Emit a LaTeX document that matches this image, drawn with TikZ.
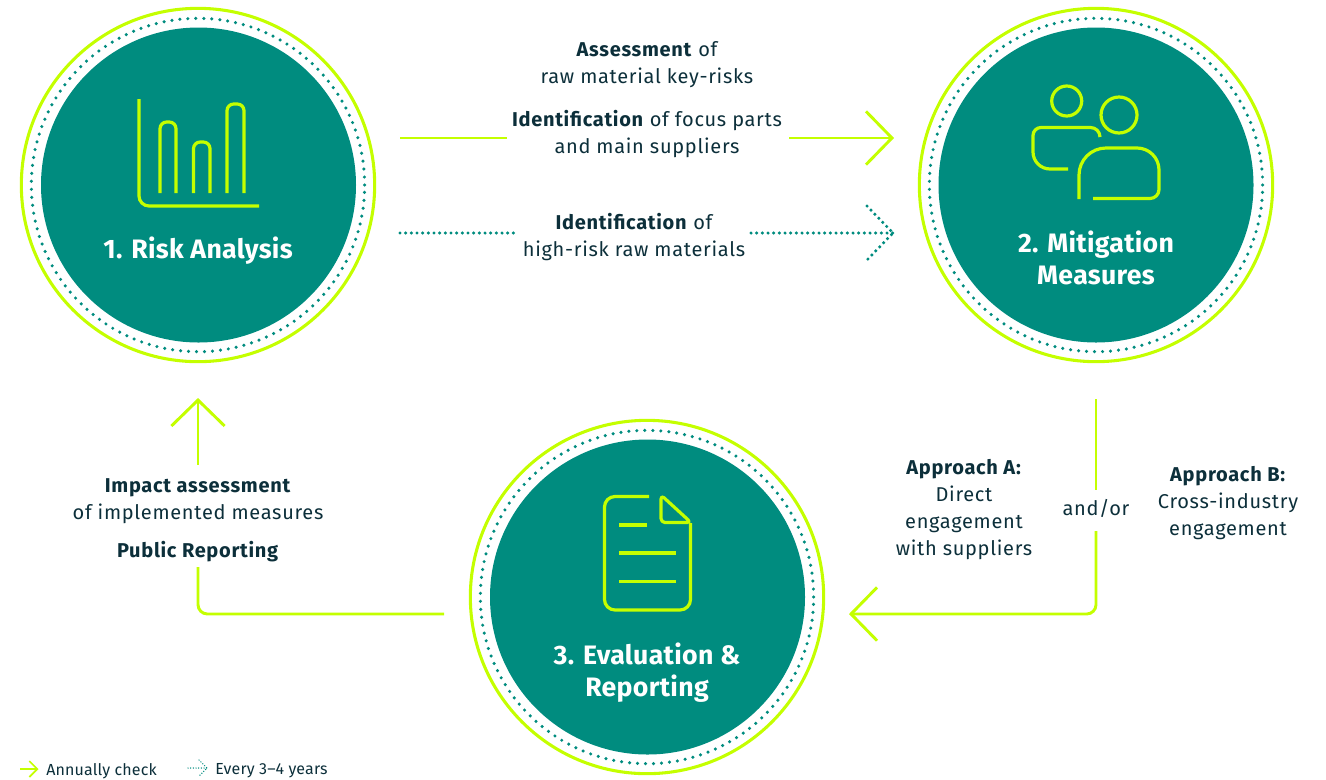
\documentclass[tikz,border=0pt]{standalone}
\usepackage{fontspec}
\setmainfont{Fira Sans}[LetterSpace=3.5]
\newfontfamily\titlefont{Fira Sans}[LetterSpace=1.2]
\newfontfamily\legendfont{Fira Sans}[LetterSpace=1]
\usetikzlibrary{arrows.meta,calc}
\definecolor{tealc}{HTML}{008C7F}
\definecolor{limec}{HTML}{C4FF00}
\definecolor{inkc}{HTML}{0C2F3A}
\tikzset{
  disc/.style={circle,fill=tealc,draw=none,minimum size=236.25pt,inner sep=0pt},
  limering/.style={circle,draw=limec,line width=2.3pt,minimum size=265pt,inner sep=0pt},
  dotring/.style={circle,draw=tealc,line width=2.6pt,line cap=round,dash pattern=on 0pt off 6pt,minimum size=250pt,inner sep=0pt},
  limeline/.style={draw=limec,line width=2.2pt},
  limearrow/.style={limeline,-{Straight Barb[length=19.5pt,width=40pt]}},
  smallarrow/.style={limeline,line width=1.3pt,-{Straight Barb[length=6pt,width=12pt]}},
  dotline/.style={draw=tealc,line width=2.6pt,line cap=round,dash pattern=on 0pt off 4.25pt},
  smalldot/.style={draw=tealc,line width=1.1pt,line cap=round,dash pattern=on 0pt off 2pt},
  icon/.style={draw=limec,line width=2.4pt,line join=round},
  title/.style={text=white,font=\titlefont\fontsize{20pt}{24pt}\selectfont\bfseries,align=center,inner sep=0pt},
  label/.style={text=inkc,font=\fontsize{15pt}{20.25pt}\selectfont,align=center,inner sep=0pt},
  legend/.style={text=inkc,font=\legendfont\fontsize{12pt}{14pt}\selectfont,anchor=west,inner sep=0pt},
}
\begin{document}
\begin{tikzpicture}[x=0.75pt,y=-0.75pt]
\useasboundingbox (0,0) rectangle (1326,779);
% circles
\node[limering] (r1) at (198,185) {};
\node[dotring]  (d1) at (198,185) {};
\node[disc]     (c1) at (198.5,185) {};
\node[limering] (r2) at (1096,185) {};
\node[dotring]  (d2) at (1096,185) {};
\node[disc]     (c2) at (1096,185) {};
\node[limering] (r3) at (647,597) {};
\node[dotring]  (d3) at (647,597) {};
\node[disc]     (c3) at (647.5,597) {};
% titles
\node[title] (t1) at (198,251) {1. Risk Analysis};
\node[title] (t2) at (1096,258) {2. Mitigation\\Measures};
\node[title] (t3) at (647,672.5) {3. Evaluation \&\\Reporting};
% icon 1
\draw[icon] (139,99) -- (139,196) arc[start angle=180,end angle=90,radius=10] -- (259,206);
\draw[icon,rounded corners=5pt] (160,193) -- (160,122) -- (176,122) -- (176,193);
\draw[icon,rounded corners=5pt] (193.5,193) -- (193.5,142) -- (210,142) -- (210,193);
\draw[icon,rounded corners=5pt] (227,193) -- (227,104) -- (244,104) -- (244,193);
% icon 2
\node[circle,icon,minimum size=22.5pt,inner sep=0pt] (h1) at (1066.7,101) {};
\node[circle,icon,minimum size=27pt,inner sep=0pt] (h2) at (1119,115) {};
\draw[icon] (1100,137) arc[start angle=0,end angle=-90,radius=9.5] -- (1041,127.5) arc[start angle=-90,end angle=-180,radius=8] -- (1033,152) arc[start angle=180,end angle=90,radius=17] -- (1068,169);
\draw[icon] (1079,199) -- (1079,175) arc[start angle=180,end angle=270,radius=27] -- (1137,148) arc[start angle=-90,end angle=0,radius=22] -- (1159,189.5) arc[start angle=0,end angle=90,radius=9] -- (1093,198.5);
% icon 3
\draw[icon] (649,496.5) -- (615,496.5) arc[start angle=-90,end angle=-180,radius=10.5] -- (604.5,599.5) arc[start angle=180,end angle=90,radius=10.5] -- (680,610) arc[start angle=90,end angle=0,radius=10.5] -- (690.5,523);
\draw[icon,rounded corners=3pt] (661,495) -- (661,522.5) -- (691,522.5) -- cycle;
\draw[icon] (619,525) -- (647,525);
\draw[icon] (619,553) -- (676,553);
\draw[icon] (619,581.5) -- (676,581.5);
% labels
\node[label] (l1) at (647,65) {\textbf{Assessment} of\\raw material key-risks};
\node[label] (l2) at (647,134) {\textbf{Identification} of focus parts\\and main suppliers};
\node[label] (l3) at (634,237) {\textbf{Identification} of\\high-risk raw materials};
\node[label] (l4) at (198,501.5) {\textbf{Impact assessment}\\of implemented measures};
\node[label] (l5) at (198,552) {\textbf{Public Reporting}};
\node[label] (l6) at (964,510) {\textbf{Approach A:}\\Direct\\engagement\\with suppliers};
\node[label] (l7) at (1096,508.5) {and/or};
\node[label] (l8) at (1228,503) {\textbf{Approach B:}\\Cross-industry\\engagement};
% coordinates
\coordinate (a1) at (400,138);
\coordinate (a2) at (507,138);
\coordinate (a3) at (789,138);
\coordinate (a4) at (894,138);
\coordinate (b1) at (400,233);
\coordinate (b2) at (518,233);
\coordinate (b3) at (751,233);
\coordinate (b4) at (893,233);
\coordinate (e1) at (1096,399);
\coordinate (e2) at (1096,490);
\coordinate (e3) at (1096,531);
\coordinate (e4) at (1096,614);
\coordinate (e5) at (849,614);
\coordinate (f1) at (444,614);
\coordinate (f2) at (198,614);
\coordinate (f3) at (198,567);
\coordinate (g1) at (198,465);
\coordinate (g2) at (198,398);
% connectors
\draw[limeline] (a1) -- (a2);
\draw[limearrow] (a3) -- (a4);
\draw[dotline] (b1) -- (b2);
\draw[dotline] (b3) -- (b4);
\draw[dotline] ($(b4)+(-26,-27)$) -- (b4) -- ($(b4)+(-26,27)$);
\draw[limeline] (e1) -- (e2);
\draw[limearrow,rounded corners=7pt] (e3) -- (e4) -- (e5);
\draw[limeline,rounded corners=7pt] (f1) -- (f2) -- (f3);
\draw[limearrow] (g1) -- (g2);
% legend
\coordinate (k1) at (20,769);
\coordinate (k2) at (38.5,769);
\coordinate (k3) at (188,768);
\coordinate (k4) at (207,768);
\draw[smallarrow] (k1) -- (k2);
\draw[smalldot] (k3) -- (k4);
\draw[smalldot] ($(k4)+(-8,-8)$) -- (k4) -- ($(k4)+(-8,8)$);
\node[legend] (k5) at (46,771) {Annually check};
\node[legend] (k6) at (215,771) {Every 3–4 years};
\end{tikzpicture}
\end{document}
